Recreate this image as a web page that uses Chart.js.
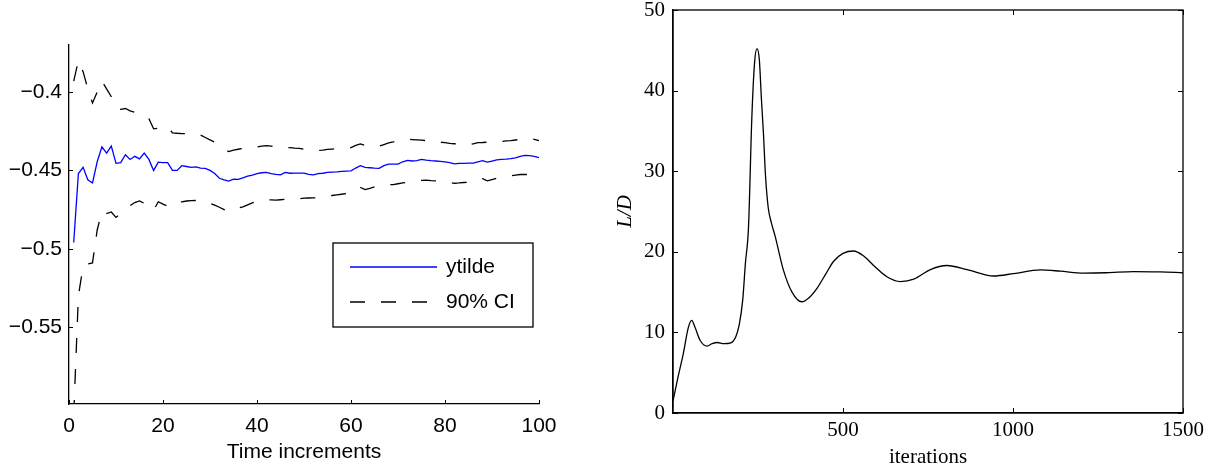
<!DOCTYPE html>
<html>
<head>
<meta charset="utf-8">
<script src="https://cdn.jsdelivr.net/npm/chart.js@4.4.1/dist/chart.umd.min.js"></script>
<style>
  body { margin: 0; background: #fff; }
  .panel { position: absolute; top: 0; height: 470px; }
  #leftBox { left: 0; width: 560px; }
  #rightBox { left: 560px; width: 663px; }
</style>
</head>
<body>
<div class="panel" id="leftBox"><canvas id="leftChart"></canvas></div>
<div class="panel" id="rightBox"><canvas id="rightChart"></canvas></div>
<script>
// left panel: estimate with 90% band, one value per time increment (1..100)
const ytilde = [
  -0.496, -0.452, -0.448, -0.456, -0.458, -0.4445, -0.435, -0.439, -0.4345, -0.4455,
  -0.445, -0.440, -0.443, -0.441, -0.4426, -0.439, -0.443, -0.450, -0.4447, -0.445,
  -0.445, -0.450, -0.450, -0.447, -0.4475, -0.448, -0.4478, -0.4485, -0.4487, -0.450,
  -0.452, -0.455, -0.456, -0.4568, -0.4555, -0.4557, -0.4548, -0.4537, -0.453, -0.452,
  -0.4515, -0.4512, -0.452, -0.4525, -0.4528, -0.4513, -0.4518, -0.4517, -0.4517, -0.4517,
  -0.4525, -0.4528, -0.452, -0.4518, -0.4513, -0.4511, -0.4509, -0.4506, -0.4504, -0.4503,
  -0.4485, -0.447, -0.448, -0.4483, -0.4486, -0.4487, -0.447, -0.446, -0.446, -0.446,
  -0.4445, -0.4436, -0.444, -0.4438, -0.443, -0.4435, -0.4438, -0.444, -0.4442, -0.4445,
  -0.445, -0.4458, -0.4455, -0.4455, -0.4454, -0.4453, -0.4445, -0.4438, -0.4447, -0.444,
  -0.4433, -0.443, -0.4428, -0.4425, -0.442, -0.441, -0.4404, -0.4406, -0.441, -0.4419
];
const ciUpper = [
  -0.393, -0.380, -0.387, -0.398, -0.407, -0.400, -0.393, -0.398, -0.403, -0.410,
  -0.411, -0.4105, -0.412, -0.413, -0.414, -0.415, -0.417, -0.4235, -0.423, -0.4225,
  -0.422, -0.426, -0.4263, -0.4265, -0.4265, -0.4265, -0.4268, -0.4275, -0.429, -0.4305,
  -0.432, -0.4345, -0.4365, -0.438, -0.437, -0.4365, -0.436, -0.4357, -0.4355, -0.435,
  -0.4345, -0.4342, -0.4345, -0.4348, -0.435, -0.4352, -0.4355, -0.4358, -0.436, -0.4365,
  -0.437, -0.4375, -0.4372, -0.437, -0.4366, -0.4364, -0.4362, -0.436, -0.4358, -0.4355,
  -0.434, -0.4331, -0.434, -0.4345, -0.4348, -0.4345, -0.4335, -0.4325, -0.4318, -0.431,
  -0.4305, -0.4301, -0.4303, -0.4305, -0.4307, -0.431, -0.4315, -0.4318, -0.432, -0.4323,
  -0.4327, -0.433, -0.4333, -0.4336, -0.4338, -0.433, -0.4323, -0.4322, -0.432, -0.4318,
  -0.4317, -0.4315, -0.4312, -0.431, -0.4306, -0.4302, -0.430, -0.4297, -0.4302, -0.431
];
const ciLower = [
  -0.606, -0.530, -0.511, -0.5096, -0.509, -0.488, -0.476, -0.4775, -0.4765, -0.480,
  -0.4775, -0.475, -0.4725, -0.4705, -0.4695, -0.471, -0.4735, -0.4754, -0.470, -0.4715,
  -0.4728, -0.4733, -0.4718, -0.470, -0.4695, -0.4693, -0.4692, -0.4693, -0.4697, -0.471,
  -0.4722, -0.4735, -0.475, -0.4762, -0.4745, -0.474, -0.4733, -0.472, -0.4707, -0.4697,
  -0.4692, -0.4686, -0.4688, -0.469, -0.4687, -0.4684, -0.4682, -0.468, -0.468, -0.4677,
  -0.4676, -0.4675, -0.4674, -0.4672, -0.4665, -0.466, -0.4656, -0.4652, -0.4648, -0.4645,
  -0.462, -0.4609, -0.4622, -0.4615, -0.4605, -0.4598, -0.4594, -0.4592, -0.459, -0.4585,
  -0.458, -0.4575, -0.457, -0.4567, -0.4563, -0.4562, -0.4565, -0.4567, -0.457, -0.4573,
  -0.4578, -0.4582, -0.458, -0.4577, -0.4575, -0.4573, -0.456, -0.4552, -0.4567, -0.4558,
  -0.455, -0.4545, -0.454, -0.4535, -0.453, -0.4526, -0.4526, -0.4526, -0.4526, -0.4537
];
const steps = ytilde.map((_, i) => i + 1);
const leftYTicks = [-0.55, -0.5, -0.45, -0.4];

// right panel: lift-to-drag ratio against iterations
const iterations = [
  0, 15, 30, 45, 55, 65, 80, 100, 115, 130, 150, 170, 185, 195, 205, 213, 222, 232, 240, 247,
  254, 260, 266, 272, 280, 290, 300, 325, 350, 379, 400, 424, 450, 472, 500, 531, 560, 590,
  629, 669, 708, 757, 806, 865, 943, 1002, 1080, 1139, 1208, 1276, 1355, 1433, 1500
];
const liftDrag = [
  1.5, 4.5, 7.3, 10.6, 11.5, 10.6, 9.0, 8.3, 8.6, 8.75, 8.6, 8.7, 9.5, 11.0, 14.0, 18.6, 23.0, 36.8, 43.5, 45.2,
  43.8, 39.0, 34.7, 29.5, 25.5, 23.5, 22.0, 17.7, 15.0, 13.8, 14.3, 15.5, 17.3, 18.8, 19.8, 20.1, 19.5, 18.3,
  16.9, 16.3, 16.6, 17.8, 18.3, 17.8, 17.0, 17.3, 17.75, 17.6, 17.35, 17.4, 17.55, 17.5, 17.4
];
const rightXTicks = [500, 1000, 1500];

// matlab style ticks pointing into the plot
const innerTicks = {
  id: 'innerTicks',
  afterDraw(chart, args, opts) {
    const { ctx, chartArea: a, scales: { x, y } } = chart;
    const len = opts.len || 5;
    ctx.save();
    ctx.strokeStyle = '#000';
    ctx.lineWidth = 1;
    ctx.beginPath();
    x.ticks.forEach(t => {
      const px = Math.round(x.getPixelForValue(t.value)) + 0.5;
      ctx.moveTo(px, a.bottom); ctx.lineTo(px, a.bottom - len);
      if (opts.box) { ctx.moveTo(px, a.top); ctx.lineTo(px, a.top + len); }
    });
    y.ticks.forEach(t => {
      const py = Math.round(y.getPixelForValue(t.value)) + 0.5;
      ctx.moveTo(a.left, py); ctx.lineTo(a.left + len, py);
      if (opts.box) { ctx.moveTo(a.right, py); ctx.lineTo(a.right - len, py); }
    });
    ctx.stroke();
    if (opts.box) {
      ctx.lineWidth = 1.3;
      ctx.strokeRect(a.left, a.top, a.right - a.left, a.bottom - a.top);
    }
    ctx.restore();
  }
};

// boxed legend placed inside the plot
const boxLegend = {
  id: 'boxLegend',
  afterDraw(chart, args, o) {
    if (!o.show) return;
    const { ctx, chartArea: a } = chart;
    const x0 = a.left + o.x, y0 = a.top + o.y;
    ctx.save();
    ctx.fillStyle = '#fff';
    ctx.fillRect(x0, y0, o.w, o.h);
    ctx.strokeStyle = '#000';
    ctx.lineWidth = 1.3;
    ctx.strokeRect(x0, y0, o.w, o.h);
    ctx.font = '21px "Liberation Sans", Arial, sans-serif';
    ctx.textBaseline = 'middle';
    const items = chart.data.datasets.filter(d => !d.noLegend);
    items.forEach((d, i) => {
      const ly = y0 + o.row0 + i * o.rowGap;
      ctx.beginPath();
      ctx.strokeStyle = d.borderColor;
      ctx.lineWidth = d.borderWidth;
      ctx.setLineDash(d.borderDash || []);
      ctx.moveTo(x0 + 17, ly);
      ctx.lineTo(x0 + 104, ly);
      ctx.stroke();
      ctx.setLineDash([]);
      ctx.fillStyle = '#000';
      ctx.fillText(d.label, x0 + 113, ly);
    });
    ctx.restore();
  }
};

function fixWidth(w) {
  return s => { s.width = w; s.paddingTop = 0; s.paddingBottom = 0; };
}
function fixHeight(h) {
  return s => { s.height = h; s.paddingLeft = 0; s.paddingRight = 0; };
}

const sansFont = { family: '"Liberation Sans", Arial, sans-serif', size: 21 };
const serifFont = { family: '"Liberation Serif", "Times New Roman", serif', size: 21 };

new Chart(document.getElementById('leftChart'), {
  type: 'line',
  data: {
    datasets: [
      { label: 'ytilde', data: steps.map((t, i) => ({ x: t, y: ytilde[i] })),
        borderColor: '#0000ff', borderWidth: 1.3 },
      { label: '90% CI', data: steps.map((t, i) => ({ x: t, y: ciUpper[i] })),
        borderColor: '#000', borderWidth: 1.3, borderDash: [15, 16] },
      { label: '90% CI', noLegend: true, data: steps.map((t, i) => ({ x: t, y: ciLower[i] })),
        borderColor: '#000', borderWidth: 1.3, borderDash: [15, 16] }
    ]
  },
  options: {
    responsive: true,
    maintainAspectRatio: false,
    animation: false,
    layout: { padding: { top: 45, right: 21, left: 0, bottom: 0 } },
    elements: { point: { radius: 0 }, line: { tension: 0 } },
    plugins: {
      legend: { display: false },
      tooltip: { enabled: false },
      innerTicks: { len: 4, box: false },
      boxLegend: { show: true, x: 264, y: 198, w: 200, h: 84, row0: 24, rowGap: 35 }
    },
    scales: {
      x: {
        type: 'linear', min: 0, max: 100,
        ticks: { stepSize: 20, padding: 10, color: '#000', font: sansFont, callback: v => String(v) },
        grid: { display: false, drawTicks: false },
        border: { color: '#000', width: 1.3 },
        title: { display: true, text: 'Time increments', color: '#000', font: sansFont,
                 padding: { top: 0, bottom: 5 } },
        afterFit: fixHeight(66)
      },
      y: {
        type: 'linear', min: -0.599, max: -0.37,
        afterBuildTicks: s => { s.ticks = leftYTicks.map(v => ({ value: v })); },
        ticks: { padding: 7, color: '#000', font: sansFont,
                 callback: v => (v < 0 ? '\u2212' : '') + Math.abs(v) },
        grid: { display: false, drawTicks: false },
        border: { color: '#000', width: 1.3 },
        afterFit: fixWidth(69)
      }
    }
  },
  plugins: [innerTicks, boxLegend]
});

new Chart(document.getElementById('rightChart'), {
  type: 'line',
  data: {
    datasets: [
      { label: 'L/D', data: iterations.map((n, i) => ({ x: n, y: liftDrag[i] })),
        borderColor: '#000', borderWidth: 1.3, cubicInterpolationMode: 'monotone' }
    ]
  },
  options: {
    responsive: true,
    maintainAspectRatio: false,
    animation: false,
    layout: { padding: { top: 10, right: 40, left: 0, bottom: 0 } },
    elements: { point: { radius: 0 } },
    plugins: {
      legend: { display: false },
      tooltip: { enabled: false },
      innerTicks: { len: 5, box: true }
    },
    scales: {
      x: {
        type: 'linear', min: 0, max: 1500,
        afterBuildTicks: s => { s.ticks = rightXTicks.map(v => ({ value: v })); },
        ticks: { padding: 5, color: '#000', font: serifFont, callback: v => String(v) },
        grid: { display: false, drawTicks: false },
        border: { color: '#000', width: 1.3 },
        title: { display: true, text: 'iterations', color: '#000', font: serifFont,
                 padding: { top: 0, bottom: 0 } },
        afterFit: fixHeight(57)
      },
      y: {
        type: 'linear', min: 0, max: 50,
        ticks: { stepSize: 10, padding: 8, color: '#000', font: serifFont },
        grid: { display: false, drawTicks: false },
        border: { color: '#000', width: 1.3 },
        title: { display: true, text: 'L/D', color: '#000',
                 font: { family: serifFont.family, size: 21, style: 'italic' },
                 padding: { top: 53, bottom: 0 } },
        afterFit: fixWidth(113)
      }
    }
  },
  plugins: [innerTicks]
});
</script>
</body>
</html>
